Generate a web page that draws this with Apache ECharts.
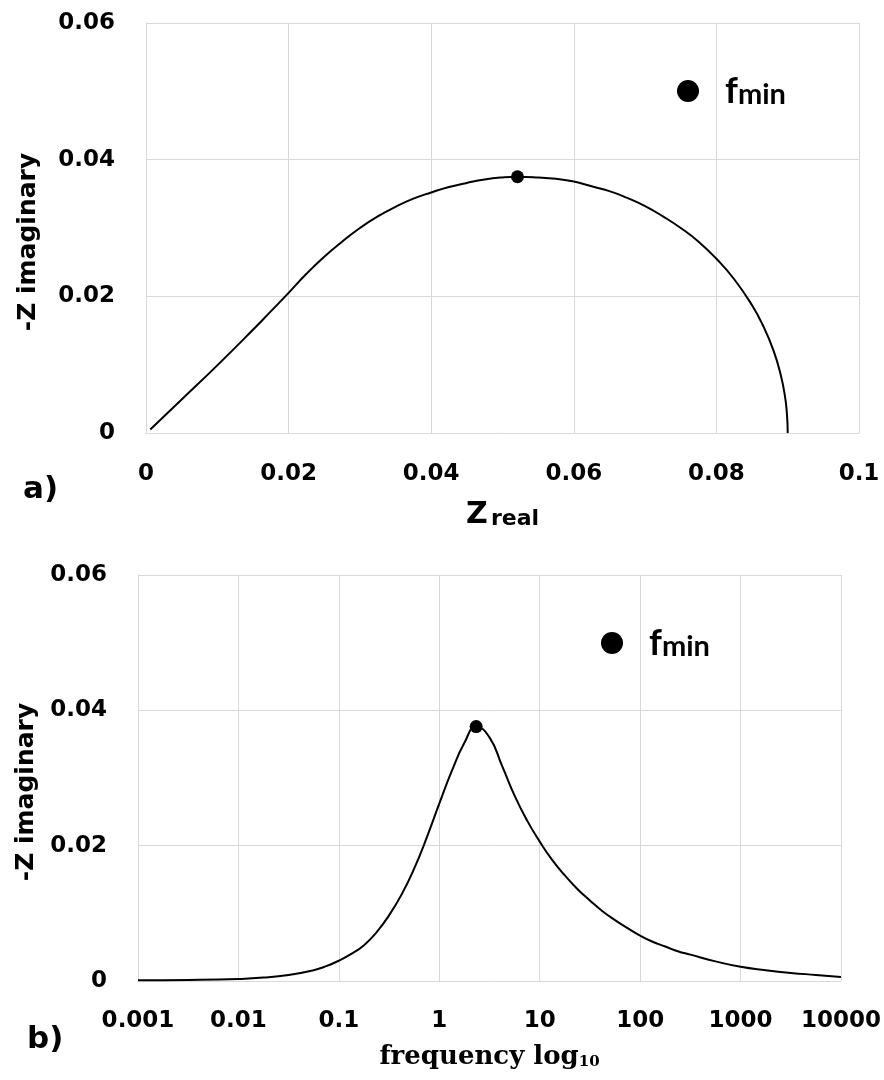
<!DOCTYPE html>
<html>
<head>
<meta charset="utf-8">
<script src="https://cdn.jsdelivr.net/npm/echarts@6/dist/echarts.min.js"></script>
<style>
html,body{margin:0;padding:0;background:#fff;}
#chart{width:884px;height:1080px;}
</style>
</head>
<body>
<div id="chart"></div>
<script>
// ---- Data ----
// a) Nyquist plot: Z real vs -Z imaginary
const zReal = [0.0006, 0.0050, 0.0100, 0.0150, 0.0175, 0.0200, 0.0225, 0.0250, 0.0275, 0.0300, 0.0325, 0.0350, 0.0375, 0.0400, 0.0425, 0.0450, 0.0475, 0.0500, 0.0521, 0.0550, 0.0575, 0.0600, 0.0625, 0.0650, 0.0675, 0.0700, 0.0725, 0.0750, 0.0775, 0.0800, 0.0825, 0.0850, 0.0865, 0.0880, 0.0890, 0.0896, 0.0899, 0.0900];
const zImagA = [0.0005, 0.0049, 0.0099, 0.0151, 0.0178, 0.0205, 0.0233, 0.0258, 0.0280, 0.0300, 0.0317, 0.0331, 0.0343, 0.0352, 0.0360, 0.0366, 0.0371, 0.0374, 0.0375, 0.0374, 0.0372, 0.0368, 0.0361, 0.0354, 0.0344, 0.0332, 0.0317, 0.0300, 0.0280, 0.0255, 0.0225, 0.0187, 0.0158, 0.0121, 0.0086, 0.0055, 0.0027, 0.0000];
const fminA = [0.0521, 0.0375];
// b) -Z imaginary vs frequency (Hz)
const freq = [0.001, 0.00316, 0.01, 0.0178, 0.0316, 0.0562, 0.075, 0.1, 0.133, 0.178, 0.237, 0.316, 0.422, 0.562, 0.75, 1, 1.33, 1.78, 2.33, 3.16, 4.22, 5.62, 7.5, 10, 13.3, 17.8, 23.7, 31.6, 42.2, 56.2, 75, 100, 133, 178, 237, 316, 562, 1000, 1778, 3162, 5623, 10000];
const zImagB = [0.0001, 0.00015, 0.0003, 0.0005, 0.0009, 0.0016, 0.0022, 0.0030, 0.0040, 0.0053, 0.0072, 0.0097, 0.0128, 0.0166, 0.0212, 0.0262, 0.0310, 0.0352, 0.0376, 0.0360, 0.0318, 0.0274, 0.0237, 0.0206, 0.0179, 0.0156, 0.0136, 0.0119, 0.0103, 0.0090, 0.0078, 0.0067, 0.0058, 0.0051, 0.0044, 0.0039, 0.0029, 0.0021, 0.0016, 0.0012, 0.0009, 0.0006];
const fminB = [2.33, 0.0376];
// tick labels
const xTicksA = ['0', '0.02', '0.04', '0.06', '0.08', '0.1'];
const yTicks = ['0', '0.02', '0.04', '0.06'];
const xTicksB = ['0.001', '0.01', '0.1', '1', '10', '100', '1000', '10000'];

const SANS = 'DejaVu Sans';
const GRID_C = '#d9d9d9';
const tickFont = {fontFamily: SANS, fontWeight: 'bold', fontSize: 23, color: '#000'};

function pair(xs, ys) { return xs.map((x, i) => [x, ys[i]]); }

const yAxisBase = (gi, gap) => ({
  gridIndex: gi, type: 'value', min: 0, max: 0.06, interval: 0.02,
  name: '-Z imaginary', nameLocation: 'middle', nameGap: gap, nameRotate: 90,
  nameTextStyle: {fontFamily: SANS, fontWeight: 'bold', fontSize: 25, color: '#000', padding: [0, 28, 0, 0]},
  axisLine: {show: true, lineStyle: {color: GRID_C, width: 1}},
  axisTick: {show: false},
  axisLabel: Object.assign({margin: 31, formatter: v => yTicks[Math.round(v / 0.02)]}, tickFont),
  splitLine: {show: true, lineStyle: {color: GRID_C, width: 1}}
});

const legendBase = (left, top) => ({
  data: ['fmin'], left: left, top: top, icon: 'circle', itemWidth: 22, itemHeight: 22,
  selectedMode: false, padding: 0,
  formatter: () => '{f|f}{m|min}',
  textStyle: {rich: {
    f: {fontFamily: 'Lato', fontWeight: 'bold', fontSize: 36, color: '#000', padding: [0, 0, 0, 21], verticalAlign: 'bottom'},
    m: {fontFamily: 'Lato', fontWeight: 'bold', fontSize: 29, color: '#000', verticalAlign: 'bottom'}
  }}
});

const option = {
  animation: false,
  backgroundColor: '#fff',
  title: [
    {text: 'a)', left: 23, top: 474, padding: 0, textStyle: {fontFamily: SANS, fontWeight: 'bold', fontSize: 31, color: '#000'}},
    {text: 'b)', left: 27, top: 1024, padding: 0, textStyle: {fontFamily: SANS, fontWeight: 'bold', fontSize: 31, color: '#000'}}
  ],
  legend: [legendBase(677, 73), legendBase(601, 625)],
  grid: [
    {left: 146, top: 23, width: 713, height: 410},
    {left: 138, top: 575, width: 704, height: 406}
  ],
  xAxis: [
    {
      gridIndex: 0, type: 'value', min: 0, max: 0.1, interval: 0.02,
      name: '{z|Z} {r|real}', nameLocation: 'middle', nameGap: 67,
      nameTextStyle: {rich: {
        z: {fontFamily: SANS, fontWeight: 'bold', fontSize: 30, color: '#000', verticalAlign: 'bottom'},
        r: {fontFamily: SANS, fontWeight: 'bold', fontSize: 22, color: '#000', verticalAlign: 'bottom'}
      }},
      axisLine: {show: true, lineStyle: {color: GRID_C, width: 1}},
      axisTick: {show: false},
      axisLabel: Object.assign({margin: 30, formatter: v => xTicksA[Math.round(v / 0.02)]}, tickFont),
      splitLine: {show: true, lineStyle: {color: GRID_C, width: 1}}
    },
    {
      gridIndex: 1, type: 'log', logBase: 10, min: 0.001, max: 10000, splitNumber: 7,
      name: '{a|frequency log}{s|10}', nameLocation: 'middle', nameGap: 63,
      nameTextStyle: {rich: {
        a: {fontFamily: 'DejaVu Serif', fontWeight: 'bold', fontSize: 26, color: '#000', verticalAlign: 'bottom'},
        s: {fontFamily: 'DejaVu Serif', fontWeight: 'bold', fontSize: 15, color: '#000', verticalAlign: 'bottom'}
      }},
      axisLine: {show: true, lineStyle: {color: GRID_C, width: 1}},
      axisTick: {show: false},
      minorTick: {show: false},
      axisLabel: Object.assign({margin: 29, formatter: v => xTicksB[Math.round(Math.log10(v)) + 3]}, tickFont),
      splitLine: {show: true, lineStyle: {color: GRID_C, width: 1}}
    }
  ],
  yAxis: [yAxisBase(0, 105), yAxisBase(1, 98)],
  series: [
    {
      type: 'line', name: 'curveA', xAxisIndex: 0, yAxisIndex: 0,
      data: pair(zReal, zImagA), showSymbol: false, smooth: 0.5,
      lineStyle: {color: '#000', width: 2}, silent: true
    },
    {
      type: 'scatter', name: 'fmin', xAxisIndex: 0, yAxisIndex: 0,
      data: [fminA], symbolSize: 13, itemStyle: {color: '#000', opacity: 1}, z: 5
    },
    {
      type: 'line', name: 'curveB', xAxisIndex: 1, yAxisIndex: 1,
      data: pair(freq, zImagB), showSymbol: false, smooth: 0.5,
      lineStyle: {color: '#000', width: 2}, silent: true
    },
    {
      type: 'scatter', name: 'fmin', xAxisIndex: 1, yAxisIndex: 1,
      data: [fminB], symbolSize: 13, itemStyle: {color: '#000', opacity: 1}, z: 5
    }
  ]
};

const chart = echarts.init(document.getElementById('chart'), null, {renderer: 'canvas'});
chart.setOption(option);
</script>
</body>
</html>
